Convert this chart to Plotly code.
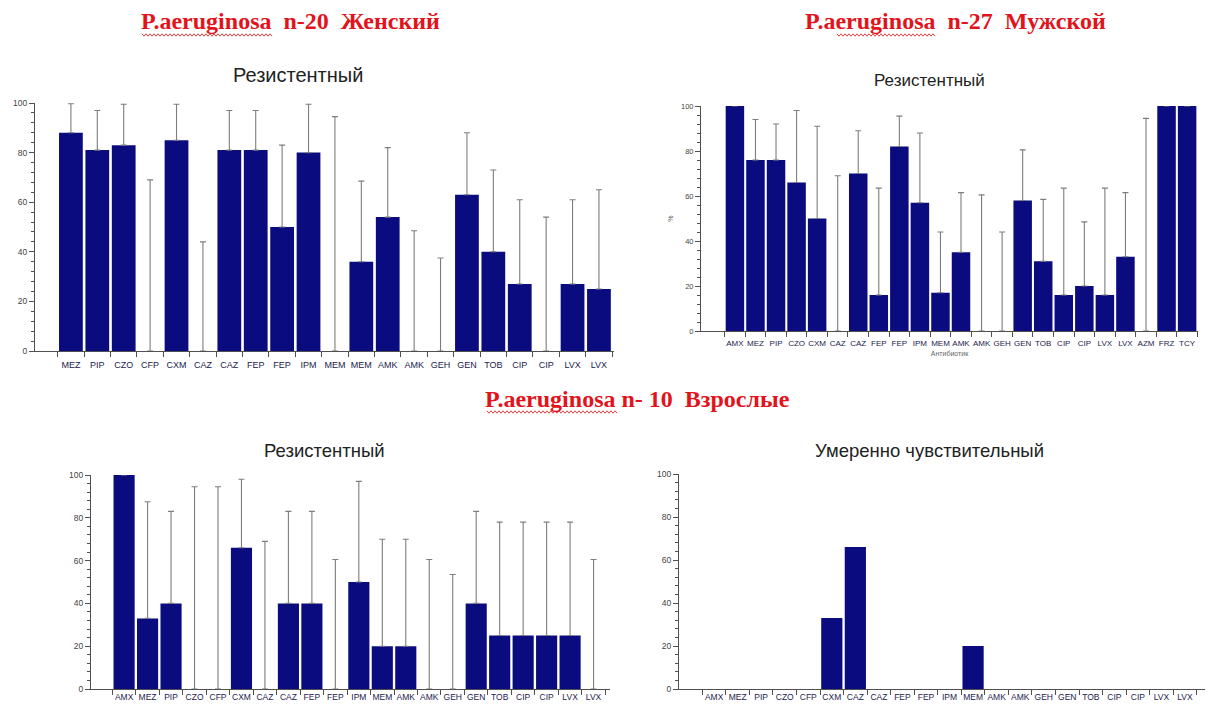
import plotly.graph_objects as go

W, H = 1214, 704

# ---------------- data ----------------
cats_f = ["MEZ", "PIP", "CZO", "CFP", "CXM", "CAZ", "CAZ", "FEP", "FEP", "IPM", "MEM",
          "MEM", "AMK", "AMK", "GEH", "GEN", "TOB", "CIP", "CIP", "LVX", "LVX"]
val_f = [88, 81, 83, 0, 85, 0, 81, 81, 50, 80, 0, 36, 54, 0, 0, 63, 40, 27, 0, 27, 25]
upper_f = [99.7, 97, 99.5, 69, 99.5, 44, 97, 97, 83, 99.5, 94.5, 68.5, 82, 48.5, 37.5,
           88, 73, 61, 54, 61, 65]

cats_m = ["AMX", "MEZ", "PIP", "CZO", "CXM", "CAZ", "CAZ", "FEP", "FEP", "IPM", "MEM", "AMK",
          "AMK", "GEH", "GEN", "TOB", "CIP", "CIP", "LVX", "LVX", "AZM", "FRZ", "TCY"]
val_m = [100, 76, 76, 66, 50, 0, 70, 16, 82, 57, 17, 35, 0, 0, 58, 31, 16, 20, 16, 33, 0, 100, 100]
upper_m = [None, 94, 92, 98, 91, 69, 89, 63.5, 95.5, 88, 44, 61.5, 60.5, 44, 80.5, 58.5,
           63.5, 48.5, 63.5, 61.5, 94.5, None, None]

cats_a = ["AMX", "MEZ", "PIP", "CZO", "CFP", "CXM", "CAZ", "CAZ", "FEP", "FEP", "IPM",
          "MEM", "AMK", "AMK", "GEH", "GEN", "TOB", "CIP", "CIP", "LVX", "LVX"]
val_a_res = [100, 33, 40, 0, 0, 66, 0, 40, 40, 0, 50, 20, 20, 0, 0, 40, 25, 25, 25, 25, 0]
upper_a_res = [None, 87.5, 83, 94.5, 94.5, 98, 69, 83, 83, 60.5, 97, 70, 70, 60.5, 53.5,
               83, 78, 78, 78, 78, 60.5]
val_a_mod = [0, 0, 0, 0, 0, 33, 66, 0, 0, 0, 0, 20, 0, 0, 0, 0, 0, 0, 0, 0, 0]

y_ticks = [0, 20, 40, 60, 80, 100]

title_f = "P.aeruginosa  n-20  Женский"
title_m = "P.aeruginosa  n-27  Мужской"
title_a = "P.aeruginosa n- 10  Взрослые"
sub_res = "Резистентный"
sub_mod = "Умеренно чувствительный"

# ---------------- styling ----------------
BAR = "#0b0b80"
ERR = "#7d7d7d"
AX = "#505050"
RED = "#e3131b"


def fx(p):
    return p / W


def fy(p):
    return 1 - p / H


fig = go.Figure()


def add_panel(k, cats, vals, upper, xdom, xr, ydom, tick_size=9, ytick_size=8.5, standoff=4):
    n = len(cats)
    xs = list(range(n))
    err = None
    if upper is not None:
        plus = [(u - v) if u is not None else None for u, v in zip(upper, vals)]
        err = dict(type="data", symmetric=False, array=plus, arrayminus=[0] * n,
                   color=ERR, thickness=1.1, width=3, visible=True)
    xa = "x" if k == 1 else f"x{k}"
    ya = "y" if k == 1 else f"y{k}"
    fig.add_trace(go.Bar(x=xs, y=vals, xaxis=xa, yaxis=ya, width=0.9,
                         marker=dict(color=BAR, line=dict(width=0)),
                         error_y=err, showlegend=False, hoverinfo="skip"))
    xkey = "xaxis" if k == 1 else f"xaxis{k}"
    ykey = "yaxis" if k == 1 else f"yaxis{k}"
    fig.update_layout(**{
        xkey: dict(domain=[fx(xdom[0]), fx(xdom[1])], range=xr, anchor=ya,
                   tickmode="array", tickvals=xs, ticktext=cats, ticks="",
                   ticklabelstandoff=standoff, automargin=False,
                   showline=True, linecolor=AX, linewidth=1, showgrid=False,
                   zeroline=False, fixedrange=True,
                   tickfont=dict(family="Liberation Sans", size=tick_size, color="#22224e"),
                   minor=dict(tickmode="array", tickvals=[i - 0.5 for i in range(n + 1)],
                              ticks="outside", ticklen=5, tickcolor=AX, tickwidth=1)),
        ykey: dict(domain=[fy(ydom[0]), fy(ydom[1])], range=[0, 100], anchor=xa,
                   tickmode="array", tickvals=y_ticks, ticks="outside", ticklen=5,
                   tickcolor=AX, showline=True, linecolor=AX, linewidth=1,
                   showgrid=False, zeroline=False, fixedrange=True, automargin=False,
                   tickfont=dict(family="Liberation Sans", size=ytick_size, color="#444444"),
                   minor=dict(dtick=4, tick0=0, ticks="outside", ticklen=3,
                              tickcolor=AX, tickwidth=1)),
    })


add_panel(1, cats_f, val_f, upper_f, (35, 614), [-1.36, 20.57], (351, 103), standoff=5)
add_panel(2, cats_m, val_m, upper_m, (701, 1198), [-1.65, 22.53], (331, 106),
          tick_size=8, ytick_size=7.5, standoff=4)
add_panel(3, cats_a, val_a_res, upper_a_res, (91, 610), [-1.41, 20.7], (689, 475),
          tick_size=8.5, standoff=0)
add_panel(4, cats_a, val_a_mod, None, (679, 1205), [-1.49, 20.85], (689, 474),
          tick_size=8.5, standoff=0)

fig.update_layout(
    xaxis2=dict(title=dict(text="Антибиотик", standoff=4,
                           font=dict(family="Liberation Sans", size=7, color="#666666"))),
    yaxis2=dict(title=dict(text="%", standoff=6,
                           font=dict(family="Liberation Sans", size=7, color="#666666"))),
)

annotations = []


def add_text(text, x, y, size, color, family, bold=False):
    t = f"<b>{text}</b>" if bold else text
    annotations.append(dict(text=t, x=fx(x), y=fy(y), xref="paper", yref="paper",
                            xanchor="center", yanchor="middle", showarrow=False,
                            font=dict(family=family, size=size, color=color)))


add_text(title_f, 290, 21, 24, RED, "Liberation Serif", bold=True)
add_text(title_m, 955, 21, 24, RED, "Liberation Serif", bold=True)
add_text(title_a, 637, 399, 24, RED, "Liberation Serif", bold=True)
add_text(sub_res, 298, 75, 20, "#222222", "Liberation Sans")
add_text(sub_res, 929, 80, 17, "#222222", "Liberation Sans")
add_text(sub_res, 325, 450, 18.5, "#222222", "Liberation Sans")
add_text(sub_mod, 929, 450, 18.5, "#222222", "Liberation Sans")


def squiggle(x0, x1, y):
    pts = []
    x = x0
    up = True
    while x <= x1:
        pts.append((x, y - 1.2 if up else y + 1.2))
        up = not up
        x += 2
    path = "M " + " L ".join(f"{fx(a):.5f},{fy(b):.5f}" for a, b in pts)
    return dict(type="path", path=path, xref="paper", yref="paper",
                line=dict(color="#e04040", width=1))


shapes = [squiggle(142, 272, 35), squiggle(837, 935, 35), squiggle(487, 617, 412)]

fig.update_layout(
    width=W, height=H, margin=dict(l=0, r=0, t=0, b=0),
    paper_bgcolor="white", plot_bgcolor="white",
    bargap=0.1, annotations=annotations, shapes=shapes,
)

fig.write_html("out.html", config={"displayModeBar": False},
               post_script="document.body.style.margin='0';")
